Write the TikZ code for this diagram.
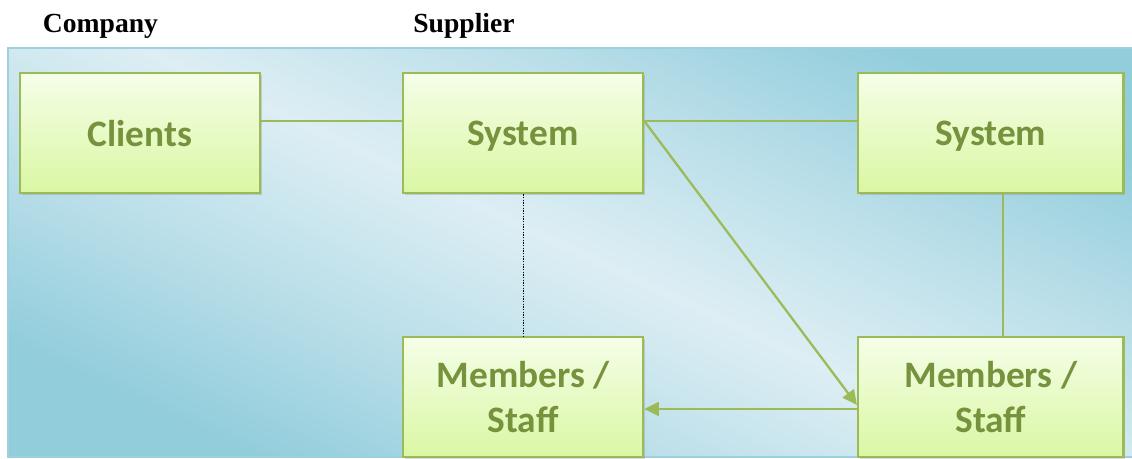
\documentclass[tikz,border=0pt]{standalone}
\usepackage{fontspec}
\setmainfont{Liberation Serif}
\newfontfamily\boxfont{Carlito}
\usetikzlibrary{positioning,arrows.meta,shadows}
\definecolor{boxline}{HTML}{9BBB59}
\definecolor{boxtext}{HTML}{76923C}
\definecolor{boxtop}{HTML}{F5FEE8}
\definecolor{boxbot}{HTML}{DAF7A3}
\definecolor{paneldark}{HTML}{92CDDC}
\definecolor{panellight}{HTML}{DDEEF4}
\definecolor{panelline}{HTML}{9DD1E0}
\pgfdeclareverticalshading{panelband}{100bp}{color(0bp)=(paneldark); color(25bp)=(paneldark); color(38bp)=(paneldark!45!panellight); color(50bp)=(panellight); color(62bp)=(paneldark!45!panellight); color(75bp)=(paneldark); color(100bp)=(paneldark)}

\begin{document}
\begin{tikzpicture}[x=0.75pt,y=-0.75pt,
  unit/.style={draw=boxline,line width=1.8pt,top color=boxtop,bottom color=boxbot,minimum width=180pt,minimum height=90pt,align=center,text depth=0pt,text=boxtext,font=\boxfont\bfseries\fontsize{28}{34}\selectfont,drop shadow={shadow xshift=1.5pt,shadow yshift=-1.5pt,opacity=0.3}},
  wide/.style={minimum width=199pt},
  link/.style={draw=boxline,line width=1.7pt},
  head/.style={font=\bfseries\fontsize{20.7}{24}\selectfont,anchor=base}] %
    \clip (0,0) rectangle (1132,458); %
    \path[shading=panelband,shading angle=-25,draw=panelline,line width=1.2pt] (8,48) rectangle (1150,457); %
    \node[head] (company) at (100.5,32) {Company} ; %
    \node[head] (supplier) at (464,32) {Supplier} ; %
    \node[unit] (clients) at (140,133) {Clients} ; %
    \node[unit, right=105.5pt of clients] (sysA) {System} ; %
    \node[unit, wide, right=159.5pt of sysA] (sysB) {System} ; %
    \node[unit, below=106.2pt of sysA] (memA) {Members /\\Staff};
    \node[unit, wide, below=106.2pt of sysB] (memB) {Members /\\Staff};
    \draw[link] ([yshift=9pt]clients.east) -- ([yshift=9pt]sysA.west) ; %
    \draw[link] ([yshift=9pt]sysA.east) -- ([yshift=9pt]sysB.west);
    \draw[link,-{Triangle[length=11pt,width=10.5pt]}] ([yshift=9pt]sysA.east) -- ([yshift=-6pt]memB.west);
    \draw[link] ([xshift=9.4pt]sysB.south) -- ([xshift=9.4pt]memB.north);
    \draw[link,-{Triangle[length=11pt,width=10.5pt]}] ([yshift=-9pt]memB.west) -- ([yshift=-9pt]memA.east);
    \draw[line width=0.8pt,dash pattern=on 1pt off 1pt] (sysA.south) -- (memA.north);
  \end{tikzpicture}
\end{document}
